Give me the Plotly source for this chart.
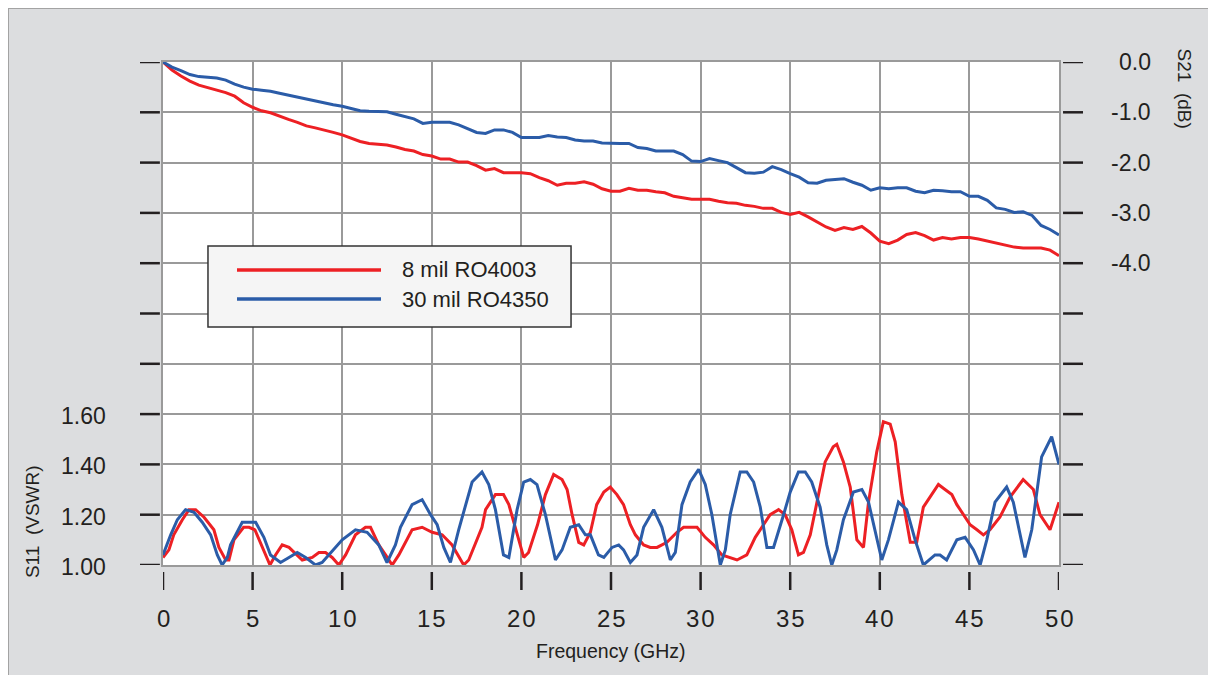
#!/usr/bin/env python3

'''
    Insertion loss (S21) and return loss (S11 as VSWR) vs frequency
    for two laminate thicknesses
'''

import plotly.graph_objects as go

# Series names
name_red = '8 mil RO4003'
name_blue = '30 mil RO4350'

# S21 (dB), every 0.5 GHz
freq_s21 = [0.0, 0.5, 1.0, 1.5, 2.0, 2.5, 3.0, 3.5, 4.0, 4.5,
            5.0, 5.5, 6.0, 6.5, 7.0, 7.5, 8.0, 8.5, 9.0, 9.5,
            10.0, 10.5, 11.0, 11.5, 12.0, 12.5, 13.0, 13.5, 14.0, 14.5,
            15.0, 15.5, 16.0, 16.5, 17.0, 17.5, 18.0, 18.5, 19.0, 19.5,
            20.0, 20.5, 21.0, 21.5, 22.0, 22.5, 23.0, 23.5, 24.0, 24.5,
            25.0, 25.5, 26.0, 26.5, 27.0, 27.5, 28.0, 28.5, 29.0, 29.5,
            30.0, 30.5, 31.0, 31.5, 32.0, 32.5, 33.0, 33.5, 34.0, 34.5,
            35.0, 35.5, 36.0, 36.5, 37.0, 37.5, 38.0, 38.5, 39.0, 39.5,
            40.0, 40.5, 41.0, 41.5, 42.0, 42.5, 43.0, 43.5, 44.0, 44.5,
            45.0, 45.5, 46.0, 46.5, 47.0, 47.5, 48.0, 48.5, 49.0, 49.5,
            50.0]

s21_red = [0.0, -0.16, -0.28, -0.38, -0.46, -0.51, -0.55, -0.61, -0.68, -0.81,
           -0.9, -0.97, -1.01, -1.08, -1.14, -1.2, -1.27, -1.31, -1.35, -1.4,
           -1.45, -1.52, -1.58, -1.62, -1.64, -1.65, -1.69, -1.74, -1.77, -1.84,
           -1.87, -1.93, -1.93, -1.99, -1.99, -2.06, -2.15, -2.12, -2.2, -2.2,
           -2.2, -2.22, -2.3, -2.36, -2.45, -2.41, -2.41, -2.38, -2.43, -2.52,
           -2.57, -2.57, -2.51, -2.55, -2.55, -2.58, -2.6, -2.67, -2.7, -2.73,
           -2.73, -2.73, -2.77, -2.8, -2.81, -2.85, -2.87, -2.91, -2.91, -2.99,
           -3.03, -2.99, -3.08, -3.18, -3.28, -3.35, -3.29, -3.33, -3.27, -3.4,
           -3.56, -3.61, -3.54, -3.43, -3.39, -3.45, -3.54, -3.49, -3.52, -3.49,
           -3.49, -3.52, -3.56, -3.6, -3.63, -3.68, -3.7, -3.7, -3.7, -3.74,
           -3.85]

s21_blue = [0.0, -0.1, -0.17, -0.25, -0.29, -0.31, -0.32, -0.36, -0.44, -0.5,
            -0.54, -0.56, -0.58, -0.62, -0.66, -0.69, -0.73, -0.77, -0.81, -0.85,
            -0.88, -0.93, -0.97, -0.98, -0.98, -0.99, -1.04, -1.09, -1.13, -1.22,
            -1.2, -1.2, -1.2, -1.25, -1.33, -1.4, -1.42, -1.35, -1.35, -1.4,
            -1.5, -1.5, -1.5, -1.46, -1.49, -1.5, -1.55, -1.57, -1.57, -1.61,
            -1.62, -1.62, -1.62, -1.7, -1.72, -1.77, -1.77, -1.77, -1.84, -1.97,
            -1.98, -1.92, -1.96, -2.0, -2.1, -2.2, -2.21, -2.19, -2.08, -2.14,
            -2.22, -2.29, -2.4, -2.41, -2.35, -2.33, -2.32, -2.39, -2.45, -2.55,
            -2.5, -2.52, -2.5, -2.5, -2.57, -2.6, -2.55, -2.56, -2.58, -2.58,
            -2.67, -2.67, -2.75, -2.9, -2.93, -2.99, -2.98, -3.05, -3.25, -3.33,
            -3.44]

# S11 (VSWR) at the turning points of each curve
freq_s11_red = [0, 0.33, 0.6, 1.08, 1.45, 1.82, 2.29, 2.84, 3.12, 3.5,
                3.68, 3.96, 4.5, 4.8, 5.13, 5.54, 5.97, 6.28, 6.65, 7.03,
                7.77, 8.33, 8.7, 9.07, 9.44, 9.81, 10.19, 10.74, 11.3, 11.58,
                12.04, 12.42, 12.79, 13.16, 13.9, 14.46, 15.02, 15.58, 16.13, 16.78,
                17.06, 17.8, 18.0, 18.55, 19.0, 19.3, 19.67, 20.13, 20.4, 20.9,
                21.34, 21.8, 22.27, 22.55, 22.83, 23.2, 23.48, 23.85, 24.2, 24.6,
                24.96, 25.33, 25.7, 26.08, 26.36, 26.82, 27.19, 27.57, 28.12, 28.68,
                29.05, 29.8, 30.26, 30.72, 31.19, 31.65, 32.03, 32.58, 33.05, 33.51,
                33.88, 34.35, 34.72, 35.09, 35.46, 35.74, 36.12, 36.58, 36.95, 37.4,
                37.6, 37.97, 38.35, 38.72, 39.09, 39.37, 39.83, 40.2, 40.58, 40.86,
                41.23, 41.7, 42.06, 42.43, 42.9, 43.27, 43.64, 44.02, 44.3, 45.04,
                45.42, 45.78, 46.15, 46.7, 47.27, 48.0, 48.57, 48.94, 49.5, 50.0]

s11_red = [1.03, 1.06, 1.12, 1.18, 1.22, 1.22, 1.19, 1.14, 1.07, 1.02,
           1.02, 1.10, 1.15, 1.15, 1.14, 1.07, 1.00, 1.04, 1.08, 1.07,
           1.02, 1.03, 1.05, 1.05, 1.03, 1.00, 1.04, 1.12, 1.15, 1.15,
           1.08, 1.04, 1.00, 1.04, 1.14, 1.15, 1.13, 1.12, 1.08, 1.00,
           1.02, 1.15, 1.22, 1.28, 1.28, 1.24, 1.15, 1.03, 1.05, 1.16,
           1.28, 1.36, 1.34, 1.30, 1.20, 1.09, 1.08, 1.13, 1.24, 1.29,
           1.31, 1.28, 1.24, 1.16, 1.12, 1.08, 1.07, 1.07, 1.09, 1.13,
           1.15, 1.15, 1.11, 1.08, 1.04, 1.03, 1.02, 1.04, 1.11, 1.16,
           1.20, 1.22, 1.20, 1.14, 1.04, 1.05, 1.12, 1.28, 1.41, 1.47,
           1.48, 1.41, 1.31, 1.10, 1.07, 1.25, 1.45, 1.57, 1.56, 1.49,
           1.28, 1.09, 1.09, 1.23, 1.28, 1.32, 1.30, 1.28, 1.24, 1.16,
           1.14, 1.12, 1.14, 1.19, 1.27, 1.34, 1.30, 1.20, 1.14, 1.25]

freq_s11_blue = [0, 0.43, 0.8, 1.26, 1.73, 2.19, 2.66, 3.03, 3.3, 3.59,
                 3.77, 4.42, 5.17, 5.63, 6.0, 6.56, 7.03, 7.49, 7.96, 8.51,
                 8.88, 9.26, 10.0, 10.74, 11.39, 12.04, 12.5, 12.97, 13.25, 13.9,
                 14.46, 14.93, 15.3, 15.67, 16.04, 16.5, 16.88, 17.25, 17.8, 18.18,
                 18.55, 19.0, 19.3, 19.76, 20.13, 20.5, 20.87, 21.34, 21.9, 22.27,
                 22.73, 23.2, 23.57, 23.85, 24.3, 24.6, 25.06, 25.43, 25.7, 26.08,
                 26.45, 26.82, 27.38, 27.84, 28.31, 28.59, 28.96, 29.42, 29.89, 30.26,
                 30.63, 31.1, 31.38, 31.65, 32.21, 32.58, 32.96, 33.33, 33.7, 34.07,
                 34.63, 35.0, 35.46, 35.84, 36.2, 36.67, 37.04, 37.32, 37.6, 37.97,
                 38.53, 39.0, 39.37, 39.74, 40.11, 40.48, 41.04, 41.5, 41.97, 42.43,
                 43.08, 43.36, 43.73, 44.3, 44.76, 45.23, 45.6, 45.97, 46.43, 47.08,
                 47.45, 48.1, 48.48, 49.03, 49.59, 50.0]

s11_blue = [1.04, 1.12, 1.18, 1.22, 1.21, 1.17, 1.12, 1.04, 1.00, 1.03,
            1.08, 1.17, 1.17, 1.11, 1.04, 1.01, 1.03, 1.05, 1.03, 1.00,
            1.01, 1.04, 1.10, 1.14, 1.13, 1.08, 1.01, 1.08, 1.15, 1.24,
            1.26, 1.20, 1.16, 1.07, 1.01, 1.14, 1.24, 1.33, 1.37, 1.32,
            1.22, 1.04, 1.03, 1.22, 1.33, 1.34, 1.32, 1.20, 1.02, 1.06,
            1.15, 1.16, 1.12, 1.12, 1.04, 1.03, 1.07, 1.08, 1.06, 1.01,
            1.04, 1.15, 1.22, 1.15, 1.02, 1.05, 1.24, 1.33, 1.38, 1.32,
            1.20, 1.00, 1.06, 1.20, 1.37, 1.37, 1.33, 1.23, 1.07, 1.07,
            1.20, 1.29, 1.37, 1.37, 1.33, 1.23, 1.08, 1.00, 1.06, 1.18,
            1.29, 1.30, 1.25, 1.14, 1.02, 1.10, 1.25, 1.22, 1.10, 1.00,
            1.04, 1.04, 1.02, 1.10, 1.11, 1.06, 1.00, 1.10, 1.25, 1.31,
            1.25, 1.03, 1.14, 1.43, 1.51, 1.40]

# Axis ticks and their labels
freq_ticks = [0, 5, 10, 15, 20, 25, 30, 35, 40, 45, 50]
freq_labels = ['0', '5', '1\u200a0', '1\u200a5', '2\u200a0', '2\u200a5',
               '3\u200a0', '3\u200a5', '4\u200a0', '4\u200a5', '5\u200a0']
s21_ticks = [0, -1, -2, -3, -4, -5, -6, -7, -8, -9, -10]
s21_label_ticks = [0, -1, -2, -3, -4]
s21_labels = ['0.0', '-1.0', '-2.0', '-3.0', '-4.0']
vswr_ticks = [1.0, 1.2, 1.4, 1.6]
vswr_labels = ['1.00', '1.20', '1.40', '1.60']

red = '#ed2024'
blue = '#2b5ca8'
grid_color = '#9a9a9a'
frame_fill = '#dcdddf'
text_color = '#231f20'
font_family = 'Liberation Sans, Arial, sans-serif'

traces = [
    go.Scatter(x=freq_s21, y=s21_red, yaxis='y2', mode='lines',
               line=dict(color=red, width=3), name=name_red),
    go.Scatter(x=freq_s21, y=s21_blue, yaxis='y2', mode='lines',
               line=dict(color=blue, width=3), name=name_blue),
    go.Scatter(x=freq_s11_red, y=s11_red, mode='lines',
               line=dict(color=red, width=3), name=name_red),
    go.Scatter(x=freq_s11_blue, y=s11_blue, mode='lines',
               line=dict(color=blue, width=3), name=name_blue),
]

# Grey panel behind everything, white plot area on top of it
shapes = [
    dict(type='rect', xref='paper', yref='paper', layer='below',
         x0=-0.173, x1=1.1708, y0=-0.25, y1=1.1074,
         fillcolor=frame_fill, line=dict(color='#a3a3a3', width=2)),
    dict(type='rect', xref='paper', yref='paper', layer='below',
         x0=0, x1=1, y0=0, y1=1, fillcolor='white', line=dict(width=0)),
]

# Short black tick dashes, detached from the plot frame
for v in s21_ticks:
    shapes.append(dict(type='line', xref='paper', yref='y2',
                       x0=-0.0257, x1=-0.0035, y0=v, y1=v,
                       line=dict(color=text_color, width=2.5)))
    shapes.append(dict(type='line', xref='paper', yref='y2',
                       x0=1.0045, x1=1.0268, y0=v, y1=v,
                       line=dict(color=text_color, width=2.5)))
for f in freq_ticks:
    shapes.append(dict(type='line', xref='x', yref='paper',
                       x0=f, x1=f, y0=-0.0139, y1=-0.0497,
                       line=dict(color=text_color, width=2.5)))

annotations = []

# Tick labels (right aligned on both sides, as in the original)
for v, t in zip(vswr_ticks, vswr_labels):
    annotations.append(dict(text=t, xref='paper', yref='y', x=-0.0614, y=v,
                            xanchor='right', yanchor='middle', yshift=-2,
                            showarrow=False, font=dict(size=23, color=text_color)))
for v, t in zip(s21_label_ticks, s21_labels):
    annotations.append(dict(text=t, xref='paper', yref='y2', x=1.1049, y=v,
                            xanchor='right', yanchor='middle',
                            showarrow=False, font=dict(size=23, color=text_color)))
for f, t in zip(freq_ticks, freq_labels):
    annotations.append(dict(text=t, xref='x', yref='paper', x=f, y=-0.1054,
                            xanchor='center', yanchor='middle',
                            showarrow=False, font=dict(size=24, color=text_color)))

# Hand drawn legend box
legend_items = [(name_red, red, 0.5865), (name_blue, blue, 0.5288)]
shapes.append(dict(type='rect', xref='paper', yref='paper',
                   x0=0.0502, x1=0.4554, y0=0.4732, y1=0.6342,
                   fillcolor='#f5f5f5', line=dict(color='#333333', width=1.5)))
for label, color, ly in legend_items:
    shapes.append(dict(type='line', xref='paper', yref='paper',
                       x0=0.0826, x1=0.2433, y0=ly, y1=ly,
                       line=dict(color=color, width=3.5)))
    annotations.append(dict(text=label, xref='paper', yref='paper',
                            x=0.2645, y=ly, xanchor='left', yanchor='middle',
                            showarrow=False,
                            font=dict(size=22, color=text_color)))

# Axis titles
annotations += [
    dict(text='Frequency (GHz)', xref='paper', yref='paper', x=0.5, y=-0.171,
         xanchor='center', yanchor='middle', showarrow=False,
         font=dict(size=19.5, color=text_color)),
    dict(text='S21\u00a0\u00a0(dB)', xref='paper', yref='paper', x=1.1406, y=0.9473,
         xanchor='center', yanchor='middle', textangle=90, showarrow=False,
         font=dict(size=19, color=text_color)),
    dict(text='S11\u00a0\u00a0(VSWR)', xref='paper', yref='paper', x=-0.145, y=0.0855,
         xanchor='center', yanchor='middle', textangle=-90, showarrow=False,
         font=dict(size=19, color=text_color)),
]

axis_common = dict(showline=True, linecolor=grid_color, linewidth=2,
                   zeroline=False, ticks='', showticklabels=False)

# The page body has an 8px margin, so the figure is shrunk by that much
layout = go.Layout(
    width=1208,
    height=667,
    margin=dict(l=155, r=157, t=54, b=110),
    paper_bgcolor='white',
    plot_bgcolor='white',
    font=dict(family=font_family, color=text_color),
    showlegend=False,
    xaxis=dict(range=[0, 50], tickvals=freq_ticks,
               showgrid=True, gridcolor=grid_color, gridwidth=2,
               mirror=True, **axis_common),
    yaxis=dict(range=[1.0, 3.0], tickvals=vswr_ticks,
               showgrid=False, **axis_common),
    yaxis2=dict(range=[-10, 0], tickvals=s21_ticks,
                overlaying='y', side='right',
                showgrid=True, gridcolor=grid_color, gridwidth=2,
                **axis_common),
    shapes=shapes,
    annotations=annotations,
)

fig = go.Figure(data=traces, layout=layout)
fig.write_html('out.html')
